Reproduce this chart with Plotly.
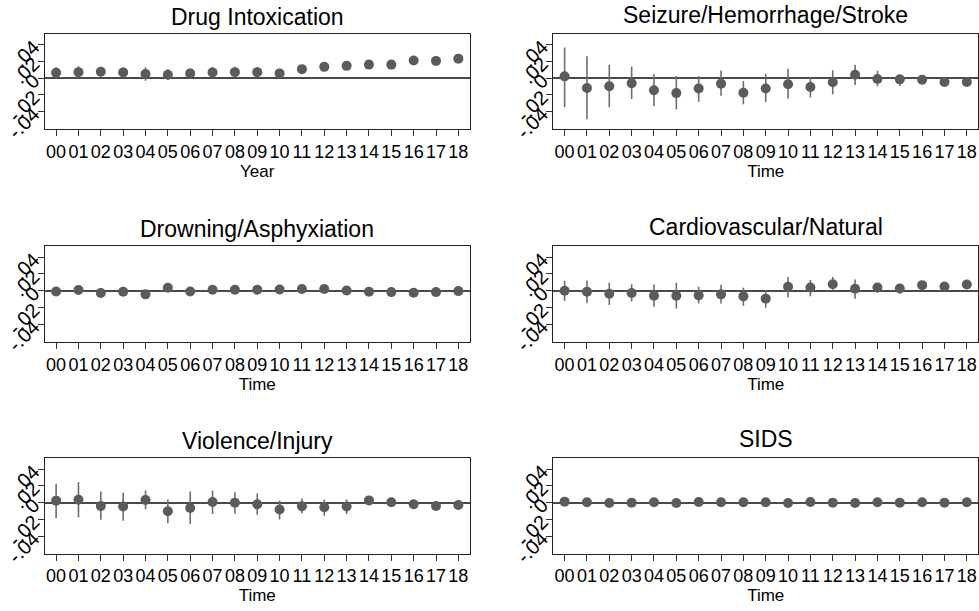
import plotly.graph_objects as go

# Event-study estimates by cause of death, years 2000-2018
years = ["00", "01", "02", "03", "04", "05", "06", "07", "08", "09",
         "10", "11", "12", "13", "14", "15", "16", "17", "18"]

drug_est = [0.0063, 0.0070, 0.0075, 0.0067, 0.0047, 0.0040, 0.0055, 0.0067, 0.0070, 0.0070,
            0.0055, 0.0106, 0.0133, 0.0145, 0.0160, 0.0160, 0.0208, 0.0204, 0.0231]
drug_hi = [0.0065, 0.0070, 0.0060, 0.0060, 0.0080, 0.0065, 0.0060, 0.0065, 0.0065, 0.0060,
           0.0055, 0.0040, 0.0040, 0.0040, 0.0040, 0.0040, 0.0040, 0.0040, 0.0040]
drug_lo = [0.0065, 0.0070, 0.0060, 0.0060, 0.0080, 0.0065, 0.0060, 0.0065, 0.0065, 0.0060,
           0.0055, 0.0040, 0.0040, 0.0040, 0.0040, 0.0040, 0.0040, 0.0040, 0.0040]

seiz_est = [0.0020, -0.0118, -0.0098, -0.0063, -0.0145, -0.0180, -0.0125, -0.0067, -0.0176, -0.0125,
            -0.0075, -0.0106, -0.0051, 0.0039, -0.0012, -0.0016, -0.0020, -0.0047, -0.0047]
seiz_top = [0.0365, 0.0259, 0.0157, 0.0137, 0.0047, 0.0024, 0.0024, 0.0090, -0.0035, 0.0051,
            0.0110, 0.0012, 0.0094, 0.0157, 0.0086, 0.0031, 0.0015, -0.0005, -0.0010]
seiz_bot = [-0.0349, -0.0490, -0.0349, -0.0251, -0.0333, -0.0376, -0.0282, -0.0212, -0.0314, -0.0286,
            -0.0243, -0.0231, -0.0192, -0.0082, -0.0098, -0.0094, -0.0055, -0.0085, -0.0085]

drown_est = [-0.0008, 0.0008, -0.0027, -0.0012, -0.0043, 0.0035, -0.0008, 0.0012, 0.0012, 0.0012,
             0.0016, 0.0020, 0.0020, 0.0004, -0.0012, -0.0016, -0.0024, -0.0016, -0.0004]
drown_err = [0.0025] * 19

cardio_est = [0.0000, -0.0012, -0.0035, -0.0027, -0.0059, -0.0059, -0.0055, -0.0043, -0.0067, -0.0094,
              0.0047, 0.0039, 0.0078, 0.0024, 0.0039, 0.0027, 0.0067, 0.0051, 0.0075]
cardio_top = [0.0118, 0.0122, 0.0094, 0.0078, 0.0075, 0.0094, 0.0047, 0.0071, 0.0035, 0.0008,
              0.0165, 0.0129, 0.0165, 0.0133, 0.0082, 0.0059, 0.0095, 0.0080, 0.0110]
cardio_bot = [-0.0122, -0.0149, -0.0169, -0.0129, -0.0192, -0.0212, -0.0153, -0.0153, -0.0180, -0.0204,
              -0.0082, -0.0067, 0.0012, -0.0094, -0.0024, -0.0035, 0.0040, 0.0025, 0.0045]

viol_est = [0.0024, 0.0035, -0.0039, -0.0047, 0.0031, -0.0102, -0.0063, 0.0008, 0.0000, -0.0020,
            -0.0082, -0.0043, -0.0055, -0.0047, 0.0027, 0.0004, -0.0020, -0.0039, -0.0027]
viol_top = [0.0227, 0.0247, 0.0133, 0.0118, 0.0145, 0.0039, 0.0133, 0.0145, 0.0125, 0.0110,
            0.0027, 0.0051, 0.0039, 0.0039, 0.0067, 0.0030, 0.0005, -0.0015, 0.0000]
viol_bot = [-0.0184, -0.0176, -0.0204, -0.0216, -0.0078, -0.0247, -0.0255, -0.0137, -0.0133, -0.0145,
            -0.0200, -0.0129, -0.0157, -0.0137, -0.0024, -0.0025, -0.0045, -0.0065, -0.0055]

sids_est = [0.0012, 0.0004, -0.0004, 0.0000, 0.0004, -0.0004, 0.0008, 0.0004, 0.0004, 0.0004,
            -0.0004, 0.0008, 0.0000, -0.0004, 0.0004, 0.0000, 0.0004, 0.0000, 0.0004]
sids_err = [0.0010] * 19

y_ticks = [-0.04, -0.02, 0, 0.02, 0.04]
y_tick_text = ["-.04", "-.02", "0", ".02", ".04"]

panels = [
    ("Drug Intoxication", "Year", drug_est,
     [e + h for e, h in zip(drug_est, drug_hi)], [e - l for e, l in zip(drug_est, drug_lo)]),
    ("Seizure/Hemorrhage/Stroke", "Time", seiz_est, seiz_top, seiz_bot),
    ("Drowning/Asphyxiation", "Time", drown_est,
     [e + d for e, d in zip(drown_est, drown_err)], [e - d for e, d in zip(drown_est, drown_err)]),
    ("Cardiovascular/Natural", "Time", cardio_est, cardio_top, cardio_bot),
    ("Violence/Injury", "Time", viol_est, viol_top, viol_bot),
    ("SIDS", "Time", sids_est,
     [e + d for e, d in zip(sids_est, sids_err)], [e - d for e, d in zip(sids_est, sids_err)]),
]

W, H = 979, 611
col_px = [(45, 470), (554, 979)]
row_px = [(34.3, 132.0), (251.7, 349.3), (468.3, 565.7)]
title_gap = [2, 4]  # px between panel top and title box, per column

FONT = "Liberation Sans, Arial, sans-serif"
MARK = "#5b5b5b"
BAR = "#6e6e6e"

fig = go.Figure()
layout = dict(
    width=W, height=H,
    margin=dict(l=0, r=0, t=0, b=0),
    paper_bgcolor="white", plot_bgcolor="white",
    showlegend=False,
    font=dict(family=FONT, color="black"),
)
annotations = []

for i, (title, xlab, est, top, bot) in enumerate(panels):
    r, c = divmod(i, 2)
    x0, x1 = col_px[c]
    y0, y1 = row_px[r]
    n = i + 1
    xa = "x" if n == 1 else f"x{n}"
    ya = "y" if n == 1 else f"y{n}"
    xkey = "xaxis" if n == 1 else f"xaxis{n}"
    ykey = "yaxis" if n == 1 else f"yaxis{n}"
    xs = list(range(len(years)))
    fig.add_trace(go.Scatter(
        x=xs, y=est, xaxis=xa, yaxis=ya, mode="markers",
        marker=dict(color=MARK, size=10, line=dict(width=0)),
        error_y=dict(type="data", symmetric=False,
                     array=[t - e for t, e in zip(top, est)],
                     arrayminus=[e - b for e, b in zip(est, bot)],
                     color=BAR, thickness=1.6, width=0),
    ))
    layout[xkey] = dict(
        domain=[x0 / W, min(x1 / W, 1.0)], anchor=ya,
        range=[-0.5, 18.5], tickmode="array", tickvals=xs, ticktext=years,
        ticks="outside", ticklen=6, tickwidth=1, tickcolor="#333",
        tickfont=dict(size=18, family=FONT, color="black"),
        showline=True, mirror=True, linecolor="#222", linewidth=1.3,
        showgrid=False, zeroline=False,
        title=dict(text=xlab, font=dict(size=17, family=FONT, color="black"), standoff=0),
        fixedrange=True,
    )
    layout[ykey] = dict(
        domain=[1 - y1 / H, 1 - y0 / H], anchor=xa,
        range=[-0.061, 0.053], tickmode="array", tickvals=y_ticks, ticktext=y_tick_text,
        tickangle=-45, ticks="outside", ticklen=6, tickwidth=1, tickcolor="#333",
        tickfont=dict(size=20, family=FONT, color="black"),
        showline=True, mirror=True, linecolor="#222", linewidth=1.3,
        showgrid=False, zeroline=True, zerolinecolor="#4a4a4a", zerolinewidth=1.5,
        fixedrange=True,
    )
    annotations.append(dict(
        text=title, xref="paper", yref="paper",
        x=(x0 + x1) / 2 / W, y=1 - (y0 - title_gap[c]) / H,
        xanchor="center", yanchor="bottom", showarrow=False,
        font=dict(size=23, family=FONT, color="black"),
    ))

layout["annotations"] = annotations
fig.update_layout(**layout)
fig.write_html("out.html")
